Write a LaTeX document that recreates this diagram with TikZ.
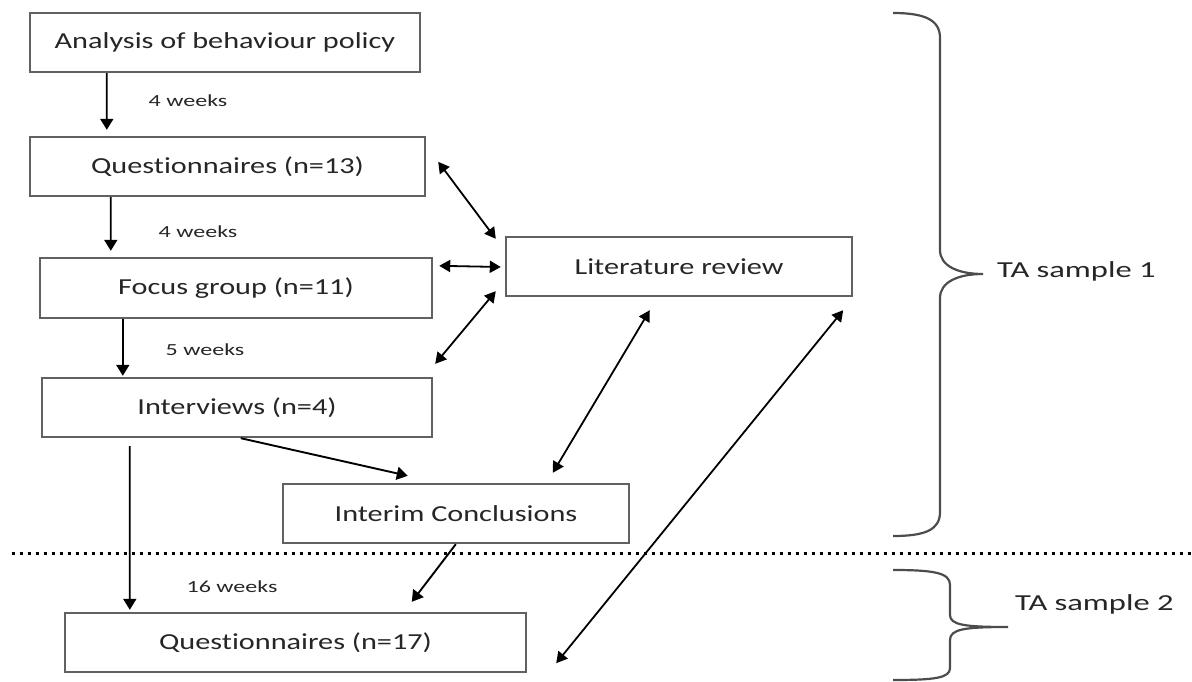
\documentclass[tikz,border=0pt]{standalone}
\usepackage{fontspec}
\setmainfont{Carlito}
\newfontfamily\boxfont[FakeStretch=1.32,Ligatures=NoCommon]{Carlito}
\newfontfamily\lblfont[FakeStretch=1.42,Ligatures=NoCommon]{Carlito}
\usetikzlibrary{arrows.meta,calc}
\begin{document}
\begin{tikzpicture}[x=1bp,y=-1bp,
  box/.style={draw=black!62, line width=2.4bp, fill=white, text=black!85, inner sep=0pt,
    font=\boxfont\fontsize{23}{27}\selectfont, anchor=center},
  lbl/.style={text=black!85, font=\lblfont\fontsize{17}{20}\selectfont, inner sep=0pt},
  tal/.style={text=black!85, font=\lblfont\fontsize{23}{27}\selectfont, inner sep=0pt, anchor=base west},
  flow/.style={draw=black, line width=1.9bp, -{Triangle[length=11bp,width=13bp]}},
  both/.style={draw=black, line width=1.8bp, {Triangle[length=11bp,width=12bp]}-{Triangle[length=11bp,width=12bp]}},
  bracepath/.style={draw=black!70, line width=2.2bp},
  sepline/.style={draw=black, line width=3bp, dash pattern=on 3bp off 5bp}
]
\useasboundingbox (0,0) rectangle (1192,682);

% boxes
\node[box, minimum width=390bp, minimum height=59bp] (ana) at (225,42.5) {Analysis of behaviour policy};
\node[box, minimum width=395bp, minimum height=59bp] (q13) at (227.5,166.5) {Questionnaires (n=13)};
\node[box, minimum width=392bp, minimum height=60bp] (fg) at (236,288) {Focus group (n=11)};
\node[box, minimum width=346bp, minimum height=59bp] (lr) at (679,266.5) {Literature review};
\node[box, minimum width=390bp, minimum height=59bp] (int) at (237,407.5) {Interviews (n=4)};
\node[box, minimum width=346bp, minimum height=59bp] (ic) at (456,513.5) {Interim Conclusions};
\node[box, minimum width=461bp, minimum height=59bp] (q17) at (295.5,642.5) {Questionnaires (n=17)};

% time labels
\node[lbl] (w1) at (188,101) {4 weeks};
\node[lbl] (w2) at (198,232) {4 weeks};
\node[lbl] (w3) at (205,350) {5 weeks};
\node[lbl] (w4) at (232,587) {16 weeks};

% separator
\coordinate (sepL) at (12,553);
\coordinate (sepR) at (1192,553);
\draw[sepline] (sepL) -- (sepR);

% flow arrows
\draw[flow] ($(ana.south west)+(78,0)$) -- ($(q13.north west)+(78,-6)$);
\draw[flow] ($(q13.south west)+(82,0)$) -- ($(fg.north west)+(72,-6)$);
\draw[flow] ($(fg.south west)+(84,0)$) -- ($(int.north west)+(82,-1)$);
\draw[flow] ($(int.south west)+(89,8)$) -- ($(q17.north west)+(66,-2)$);
\draw[flow] ($(int.south west)+(200,0)$) -- ($(ic.north west)+(126,-7)$);
\draw[flow] ($(ic.south west)+(174,0)$) -- ($(q17.north west)+(348,-10)$);

% two-way arrows with literature review
\draw[both] ($(q13.north east)+(12,26)$) -- ($(lr.north west)+(-9,3)$);
\draw[both] ($(fg.north east)+(6,9)$) -- ($(lr.west)+(-4,0.5)$);
\draw[both] ($(lr.south west)+(-9,-6)$) -- ($(int.north east)+(2,-13)$);
\draw[both] ($(lr.south west)+(145,13)$) -- ($(ic.north west)+(271,-10)$);
\draw[both] ($(lr.south east)+(-10,13)$) -- ($(q17.south east)+(29,-10)$);

% braces
\draw[bracepath] (893,13) .. controls (925,13) and (940,20) .. (940,38) -- (940,250)
  .. controls (940,266) and (958,274) .. (983,274)
  .. controls (958,274) and (940,282) .. (940,298) -- (940,512)
  .. controls (940,530) and (925,536) .. (893,536);
\draw[bracepath] (893,570) .. controls (935,570) and (950,573) .. (950,585) -- (950,615)
  .. controls (950,625) and (965,627) .. (1008,627)
  .. controls (965,627) and (950,629) .. (950,640) -- (950,668)
  .. controls (950,678) and (935,680) .. (893,680);

\node[tal] (ta1) at (997,277) {TA sample 1};
\node[tal] (ta2) at (1015,610) {TA sample 2};
\end{tikzpicture}
\end{document}
